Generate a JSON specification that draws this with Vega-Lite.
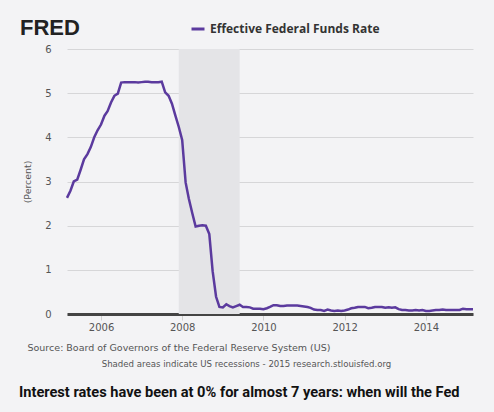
{
  "$schema": "https://vega.github.io/schema/vega-lite/v6.json",
  "width": 406,
  "height": 265,
  "autosize": "none",
  "padding": {"left": 67, "top": 49, "right": 21, "bottom": 98},
  "background": "#f3f3f5",
  "config": {"view": {"stroke": null}},
  "title": {
    "text": "Interest rates have been at 0% for almost 7 years: when will the Fed",
    "orient": "bottom",
    "anchor": "start",
    "frame": "group",
    "dx": -48,
    "offset": 17,
    "font": "Roboto",
    "fontSize": 14.6,
    "fontWeight": "bold",
    "color": "#111111",
    "limit": 0
  },
  "datasets": {
    "recessions": [{"start": "2007-12-01", "end": "2009-06-01"}],
    "fedfunds": [
      {"date": "2005-03-01", "rate": 2.63}, {"date": "2005-04-01", "rate": 2.79}, {"date": "2005-05-01", "rate": 3.00}, {"date": "2005-06-01", "rate": 3.04},
      {"date": "2005-07-01", "rate": 3.26}, {"date": "2005-08-01", "rate": 3.50}, {"date": "2005-09-01", "rate": 3.62}, {"date": "2005-10-01", "rate": 3.78},
      {"date": "2005-11-01", "rate": 4.00}, {"date": "2005-12-01", "rate": 4.16}, {"date": "2006-01-01", "rate": 4.29}, {"date": "2006-02-01", "rate": 4.49},
      {"date": "2006-03-01", "rate": 4.59}, {"date": "2006-04-01", "rate": 4.79}, {"date": "2006-05-01", "rate": 4.94}, {"date": "2006-06-01", "rate": 4.99},
      {"date": "2006-07-01", "rate": 5.24}, {"date": "2006-08-01", "rate": 5.25}, {"date": "2006-09-01", "rate": 5.25}, {"date": "2006-10-01", "rate": 5.25},
      {"date": "2006-11-01", "rate": 5.25}, {"date": "2006-12-01", "rate": 5.24}, {"date": "2007-01-01", "rate": 5.25}, {"date": "2007-02-01", "rate": 5.26},
      {"date": "2007-03-01", "rate": 5.26}, {"date": "2007-04-01", "rate": 5.25}, {"date": "2007-05-01", "rate": 5.25}, {"date": "2007-06-01", "rate": 5.25},
      {"date": "2007-07-01", "rate": 5.26}, {"date": "2007-08-01", "rate": 5.02}, {"date": "2007-09-01", "rate": 4.94}, {"date": "2007-10-01", "rate": 4.76},
      {"date": "2007-11-01", "rate": 4.49}, {"date": "2007-12-01", "rate": 4.24}, {"date": "2008-01-01", "rate": 3.94}, {"date": "2008-02-01", "rate": 2.98},
      {"date": "2008-03-01", "rate": 2.61}, {"date": "2008-04-01", "rate": 2.28}, {"date": "2008-05-01", "rate": 1.98}, {"date": "2008-06-01", "rate": 2.00},
      {"date": "2008-07-01", "rate": 2.01}, {"date": "2008-08-01", "rate": 2.00}, {"date": "2008-09-01", "rate": 1.81}, {"date": "2008-10-01", "rate": 0.97},
      {"date": "2008-11-01", "rate": 0.39}, {"date": "2008-12-01", "rate": 0.16}, {"date": "2009-01-01", "rate": 0.15}, {"date": "2009-02-01", "rate": 0.22},
      {"date": "2009-03-01", "rate": 0.18}, {"date": "2009-04-01", "rate": 0.15}, {"date": "2009-05-01", "rate": 0.18}, {"date": "2009-06-01", "rate": 0.21},
      {"date": "2009-07-01", "rate": 0.16}, {"date": "2009-08-01", "rate": 0.16}, {"date": "2009-09-01", "rate": 0.15}, {"date": "2009-10-01", "rate": 0.12},
      {"date": "2009-11-01", "rate": 0.12}, {"date": "2009-12-01", "rate": 0.12}, {"date": "2010-01-01", "rate": 0.11}, {"date": "2010-02-01", "rate": 0.13},
      {"date": "2010-03-01", "rate": 0.16}, {"date": "2010-04-01", "rate": 0.20}, {"date": "2010-05-01", "rate": 0.20}, {"date": "2010-06-01", "rate": 0.18},
      {"date": "2010-07-01", "rate": 0.18}, {"date": "2010-08-01", "rate": 0.19}, {"date": "2010-09-01", "rate": 0.19}, {"date": "2010-10-01", "rate": 0.19},
      {"date": "2010-11-01", "rate": 0.19}, {"date": "2010-12-01", "rate": 0.18}, {"date": "2011-01-01", "rate": 0.17}, {"date": "2011-02-01", "rate": 0.16},
      {"date": "2011-03-01", "rate": 0.14}, {"date": "2011-04-01", "rate": 0.10}, {"date": "2011-05-01", "rate": 0.09}, {"date": "2011-06-01", "rate": 0.09},
      {"date": "2011-07-01", "rate": 0.07}, {"date": "2011-08-01", "rate": 0.10}, {"date": "2011-09-01", "rate": 0.08}, {"date": "2011-10-01", "rate": 0.07},
      {"date": "2011-11-01", "rate": 0.08}, {"date": "2011-12-01", "rate": 0.07}, {"date": "2012-01-01", "rate": 0.08}, {"date": "2012-02-01", "rate": 0.10},
      {"date": "2012-03-01", "rate": 0.13}, {"date": "2012-04-01", "rate": 0.14}, {"date": "2012-05-01", "rate": 0.16}, {"date": "2012-06-01", "rate": 0.16},
      {"date": "2012-07-01", "rate": 0.16}, {"date": "2012-08-01", "rate": 0.13}, {"date": "2012-09-01", "rate": 0.14}, {"date": "2012-10-01", "rate": 0.16},
      {"date": "2012-11-01", "rate": 0.16}, {"date": "2012-12-01", "rate": 0.16}, {"date": "2013-01-01", "rate": 0.14}, {"date": "2013-02-01", "rate": 0.15},
      {"date": "2013-03-01", "rate": 0.14}, {"date": "2013-04-01", "rate": 0.15}, {"date": "2013-05-01", "rate": 0.11}, {"date": "2013-06-01", "rate": 0.09},
      {"date": "2013-07-01", "rate": 0.09}, {"date": "2013-08-01", "rate": 0.08}, {"date": "2013-09-01", "rate": 0.08}, {"date": "2013-10-01", "rate": 0.09},
      {"date": "2013-11-01", "rate": 0.08}, {"date": "2013-12-01", "rate": 0.09}, {"date": "2014-01-01", "rate": 0.07}, {"date": "2014-02-01", "rate": 0.07},
      {"date": "2014-03-01", "rate": 0.08}, {"date": "2014-04-01", "rate": 0.09}, {"date": "2014-05-01", "rate": 0.09}, {"date": "2014-06-01", "rate": 0.10},
      {"date": "2014-07-01", "rate": 0.09}, {"date": "2014-08-01", "rate": 0.09}, {"date": "2014-09-01", "rate": 0.09}, {"date": "2014-10-01", "rate": 0.09},
      {"date": "2014-11-01", "rate": 0.09}, {"date": "2014-12-01", "rate": 0.12}, {"date": "2015-01-01", "rate": 0.11}, {"date": "2015-02-01", "rate": 0.11},
      {"date": "2015-03-01", "rate": 0.11}
    ]
  },
  "layer": [
    {
      "data": {"name": "recessions"},
      "mark": {"type": "rect", "color": "#e4e4e7"},
      "encoding": {
        "x": {
          "field": "start", "type": "temporal",
          "scale": {"type": "utc", "domain": [{"year": 2005, "month": 3, "date": 1, "utc": true}, {"year": 2015, "month": 3, "date": 1, "utc": true}]},
          "axis": {
            "orient": "top", "labels": false, "ticks": false, "domain": false, "grid": false,
            "title": "Shaded areas indicate US recessions - 2015 research.stlouisfed.org",
            "titleX": 179, "titleY": 317, "titleAlign": "center", "titleBaseline": "alphabetic",
            "titleFont": "DejaVu Sans", "titleFontSize": 8.6, "titleFontWeight": "normal", "titleColor": "#555555"
          }
        },
        "x2": {"field": "end"}
      }
    },
    {
      "data": {"name": "fedfunds"},
      "mark": {"type": "line", "strokeWidth": 2.5, "interpolate": "linear"},
      "encoding": {
        "x": {
          "field": "date", "type": "temporal",
          "scale": {"type": "utc", "domain": [{"year": 2005, "month": 3, "date": 1, "utc": true}, {"year": 2015, "month": 3, "date": 1, "utc": true}]},
          "axis": {
            "orient": "bottom", "format": "%Y", "formatType": "utc",
            "values": [{"year": 2006, "utc": true}, {"year": 2008, "utc": true}, {"year": 2010, "utc": true}, {"year": 2012, "utc": true}, {"year": 2014, "utc": true}],
            "grid": false, "domainColor": "#444444", "domainWidth": 3,
            "tickColor": "#d0d0d0", "tickSize": 6, "labelPadding": 2,
            "labelFont": "DejaVu Sans", "labelFontSize": 10, "labelColor": "#555555",
            "title": "Source: Board of Governors of the Federal Reserve System (US)",
            "titleX": -40, "titleY": 36, "titleAlign": "left", "titleBaseline": "alphabetic",
            "titleFont": "DejaVu Sans", "titleFontSize": 9.5, "titleFontWeight": "normal", "titleColor": "#555555"
          }
        },
        "y": {
          "field": "rate", "type": "quantitative",
          "scale": {"domain": [0, 6], "nice": false, "zero": true},
          "axis": {
            "values": [0, 1, 2, 3, 4, 5, 6], "domain": false, "ticks": false,
            "gridColor": "#d6d6d8", "gridWidth": 1,
            "labelFont": "DejaVu Sans", "labelFontSize": 10, "labelColor": "#555555", "labelPadding": 16,
            "title": "(Percent)", "titleFont": "DejaVu Sans", "titleFontSize": 9.4, "titleFontWeight": "normal",
            "titleColor": "#555555", "titlePadding": 12
          }
        },
        "color": {
          "datum": "Effective Federal Funds Rate",
          "scale": {"range": ["#5b3a9e"]},
          "legend": {
            "orient": "none", "legendX": -47, "legendY": -28, "padding": 0,
            "title": "FRED", "titleOrient": "left", "titleFont": "Liberation Sans", "titleFontSize": 22,
            "titleFontWeight": "bold", "titleColor": "#222222", "titlePadding": 110,
            "symbolType": "stroke", "symbolSize": 169, "symbolStrokeWidth": 3,
            "labelFont": "Open Sans", "labelFontSize": 12, "labelFontWeight": "bold", "labelColor": "#333333",
            "labelOffset": 4, "labelLimit": 0
          }
        }
      }
    }
  ],
  "resolve": {"axis": {"x": "independent"}}
}
